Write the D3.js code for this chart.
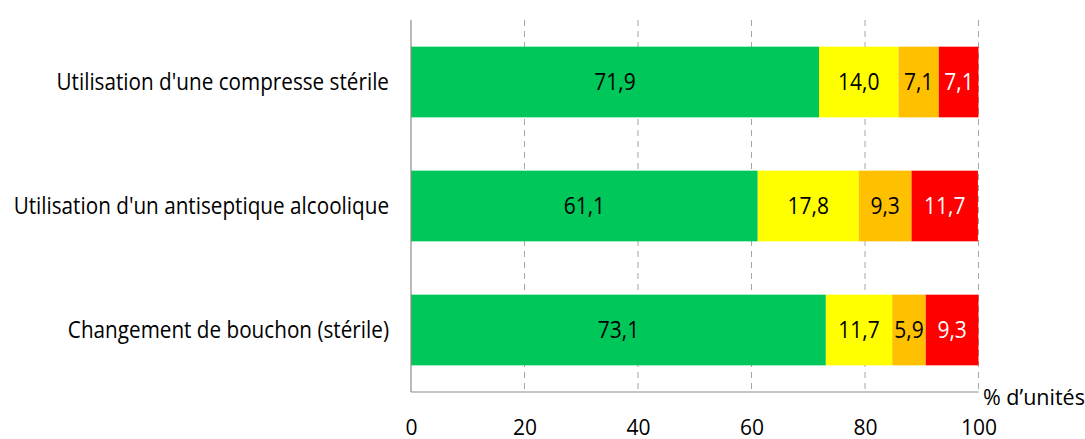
<!DOCTYPE html>
<html>
<head>
<meta charset="utf-8">
<script src="https://cdn.jsdelivr.net/npm/d3@7"></script>
<style>
  html, body { margin: 0; padding: 0; background: #fff; }
  svg text { font-family: "Open Sans", "Noto Sans", sans-serif; }
</style>
</head>
<body>
<svg id="chart" width="1085" height="439"></svg>
<script>
// Categories, top to bottom
const categories = [
  "Utilisation d'une compresse stérile",
  "Utilisation d'un antiseptique alcoolique",
  "Changement de bouchon (stérile)"
];
// Stacked series (percent of units)
const seriesGreen  = [71.9, 61.1, 73.1];
const seriesYellow = [14.0, 17.8, 11.7];
const seriesOrange = [7.1, 9.3, 5.9];
const seriesRed    = [7.1, 11.7, 9.3];
const tickValues = [0, 20, 40, 60, 80, 100];
const axisTitle = "% d\u2019unités";

const seriesList = [
  { values: seriesGreen,  color: "#00c75a", text: "#000" },
  { values: seriesYellow, color: "#ffff00", text: "#000" },
  { values: seriesOrange, color: "#ffc000", text: "#000" },
  { values: seriesRed,    color: "#ff0000", text: "#fff" }
];

const svg = d3.select("#chart");
const plotLeft = 411, plotRight = 978.5, plotTop = 20, plotBottom = 392;
const textStretch = 1.12;   // slightly tall, narrow lettering

const x = d3.scaleLinear().domain([0, 100]).range([plotLeft, plotRight]);
const y = d3.scaleBand().domain(categories).range([plotTop, plotBottom]).paddingInner(0.43).paddingOuter(0.215);

// Dashed vertical gridlines
svg.append("g").selectAll("line")
  .data(tickValues.filter(d => d > 0))
  .join("line")
  .attr("x1", d => x(d)).attr("x2", d => x(d))
  .attr("y1", plotTop).attr("y2", plotBottom)
  .attr("stroke", "#a6a6a6").attr("stroke-width", 1)
  .attr("stroke-dasharray", "6,5");

// Stacked bars with centred value labels
const fmt = v => v.toFixed(1).replace(".", ",");
const barG = svg.append("g");
categories.forEach((cat, i) => {
  let acc = 0;
  const yMid = y(cat) + y.bandwidth() / 2;
  seriesList.forEach(s => {
    const v = s.values[i];
    const x0 = x(acc), x1 = x(Math.min(acc + v, 100));
    barG.append("rect")
      .attr("x", x0).attr("y", y(cat))
      .attr("width", x1 - x0).attr("height", y.bandwidth())
      .attr("fill", s.color);
    barG.append("text")
      .attr("transform", `translate(${x(acc + v / 2)},${yMid + 8}) scale(1,${textStretch})`)
      .attr("text-anchor", "middle")
      .attr("font-size", 21).attr("fill", s.text)
      .text(fmt(v));
    acc += v;
  });
});

// Axes lines
svg.append("line").attr("x1", plotLeft).attr("x2", plotLeft).attr("y1", plotTop).attr("y2", plotBottom)
  .attr("stroke", "#8c8c8c").attr("stroke-width", 1.2);
svg.append("line").attr("x1", plotLeft).attr("x2", plotRight).attr("y1", plotBottom).attr("y2", plotBottom)
  .attr("stroke", "#8c8c8c").attr("stroke-width", 1.2);

// X axis tick labels
const xAxis = d3.axisBottom(x).tickValues(tickValues).tickSize(0).tickPadding(0);
const gx = svg.append("g").attr("transform", `translate(0,${plotBottom})`).call(xAxis);
gx.select(".domain").remove();
gx.selectAll("text").attr("font-size", 21).attr("fill", "#000")
  .attr("dy", null).attr("y", 43).attr("font-family", "'Open Sans', 'Noto Sans', sans-serif");

// Category labels
const yAxis = d3.axisLeft(y).tickSize(0).tickPadding(0);
const gy = svg.append("g").attr("transform", `translate(${plotLeft},0)`).call(yAxis);
gy.select(".domain").remove();
gy.selectAll("text")
  .attr("x", null).attr("dy", null)
  .attr("transform", `translate(-22,8) scale(1,${textStretch})`)
  .attr("font-size", 20.7).attr("fill", "#000")
  .attr("font-family", "'Open Sans', 'Noto Sans', sans-serif");

// Axis title
svg.append("text").attr("x", 983).attr("y", 405)
  .attr("font-size", 21.5).attr("fill", "#000").text(axisTitle);
</script>
</body>
</html>
